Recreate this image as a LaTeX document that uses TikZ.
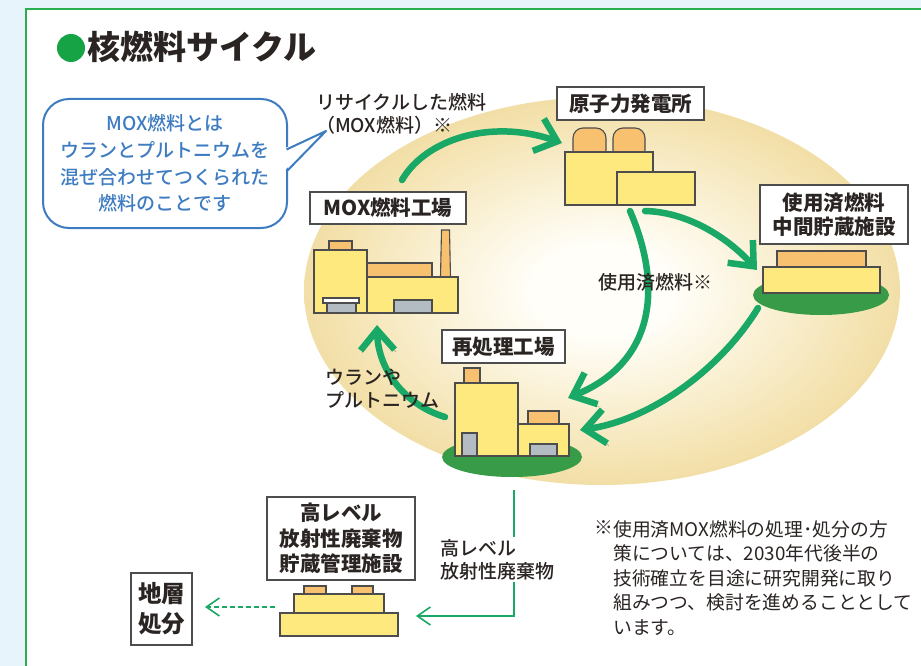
\documentclass[tikz,border=0pt]{standalone}
\usepackage{fontspec}
\setmainfont{Noto Sans CJK JP}
\newfontfamily\jpmid{Noto Sans CJK JP Medium}
\usepackage{tikz}
\usetikzlibrary{arrows.meta,shadows}

\definecolor{bg_blue}{HTML}{E7F4FC}
\definecolor{frame_green}{HTML}{2BAE4E}
\definecolor{dot_green}{HTML}{16A345}
\definecolor{arrow_green}{HTML}{19A866}
\definecolor{ground_green}{HTML}{379B47}
\definecolor{bldg_yellow}{HTML}{FEE97E}
\definecolor{bldg_orange}{HTML}{F7C16F}
\definecolor{bldg_gray}{HTML}{B3BBC3}
\definecolor{bldg_line}{HTML}{4D4D4D}
\definecolor{note_blue}{HTML}{3D7CC1}
\definecolor{egg_in}{HTML}{FFFEF8}
\definecolor{egg_mid}{HTML}{F4E2AE}
\definecolor{egg_out}{HTML}{E4C373}
\definecolor{egg_rim}{HTML}{DBB45E}
\definecolor{ink}{HTML}{2A2422}

\pgfdeclareradialshading{egg_shade}{\pgfpoint{0bp}{0bp}}{color(0bp)=(egg_in); color(6bp)=(egg_in); color(23bp)=(egg_mid); color(39bp)=(egg_out); color(50bp)=(egg_rim)}

\begin{document}
\begin{tikzpicture}[x=1pt,y=-1pt,
  label_box/.style={draw=bldg_line,line width=1.2pt,fill=white,inner sep=0pt,align=center,text=ink,
    font=\bfseries\fontsize{20.5}{23.5}\selectfont,
    drop shadow={shadow xshift=1pt,shadow yshift=-1.2pt,opacity=0.3,fill=black}},
  bldg/.style={draw=bldg_line,line width=1.1pt,fill=bldg_yellow},
  roof/.style={draw=bldg_line,line width=1.1pt,fill=bldg_orange},
  door/.style={draw=bldg_line,line width=1.1pt,fill=bldg_gray},
  ground/.style={fill=ground_green},
  bubble/.style={draw=note_blue,line width=2pt,fill=white,rounded corners=26pt,minimum width=244pt,minimum height=129pt,
    align=center,text=note_blue,font=\jpmid\fontsize{19}{26.7}\selectfont,inner sep=0pt},
  cycle_arrow/.style={draw=arrow_green,line width=6.5pt,line cap=round,-{Straight Barb[length=20pt,width=34pt]},
    preaction={draw=black!80!brown,draw opacity=0.45,transform canvas={shift={(1.6,2.4)}}}},
  waste_line/.style={draw=arrow_green,line width=1.6pt,-{Straight Barb[length=13pt,width=18pt]}},
  flow_text/.style={align=left,inner sep=0pt,text=ink,font=\jpmid\fontsize{19}{23}\selectfont},
  note_text/.style={align=left,inner sep=0pt,text=ink,font=\fontsize{18.8}{24.5}\selectfont}]

\useasboundingbox (0,0) rectangle (921,666);
\clip (0,0) rectangle (921,666);
\fill[bg_blue] (0,0) rectangle (921,666);
\draw[frame_green,line width=2pt,fill=white] (26,9) rectangle (950,700);

\fill[dot_green] (71,48) circle (14);
\node[anchor=west,inner sep=0pt,text=ink,font=\bfseries\fontsize{33}{33}\selectfont] (title) at (87,47) {核燃料サイクル};

\shade[shading=egg_shade] (602,291) ellipse [x radius=298, y radius=194];

\node[bubble] (mox_note) at (165,163.5) {MOX燃料とは\\ウランとプルトニウムを\\混ぜ合わせてつくられた\\燃料のことです};
\coordinate (note_tip) at (326,131);
\fill[white] (283,149) -- (note_tip) -- (283,172) -- cycle;
\draw[note_blue,line width=2pt,line join=round] (286.5,149.5) -- (note_tip) -- (286.5,171.5);

\draw[roof,rounded corners=10pt] (573,160) rectangle (606,128);
\draw[roof,rounded corners=10pt] (613,160) rectangle (645,128);
\draw[bldg] (565,152) rectangle (653,205);
\draw[bldg] (617,172) rectangle (695,205);

\draw[roof] (329,241) rectangle (352,250);
\draw[roof] (367,263) rectangle (432,277);
\draw[roof] (440.5,277) -- (441.5,230) -- (449.5,230) -- (450.5,277) -- cycle;
\draw[bldg] (314,250) rectangle (367,313);
\draw[bldg] (367,277) rectangle (458,313);
\draw[door] (327,303) rectangle (356,313);
\draw[door,fill=white] (323,298) rectangle (359,303);
\draw[door] (394,300) rectangle (432,313);

\fill[ground] (512,457) ellipse [x radius=70, y radius=20];
\draw[roof] (464,368) rectangle (480,383);
\draw[bldg] (455,383) rectangle (518,456);
\draw[roof] (528,411) rectangle (559,424);
\draw[bldg] (518,424) rectangle (569,456);
\draw[door] (462,433) rectangle (477,456);
\draw[door] (530,444) rectangle (557,456);

\fill[ground] (821,295) ellipse [x radius=68, y radius=20];
\draw[roof] (777,251) rectangle (866,267);
\draw[bldg] (763,267) rectangle (880,293);

\draw[roof] (304,586) rectangle (326,594);
\draw[roof] (352,586) rectangle (373,594);
\draw[bldg] (294,594) rectangle (384,613);
\draw[bldg] (280,613) rectangle (398,636);

\node[label_box,minimum width=147pt,minimum height=33pt] (plant) at (630.5,103.5) {原子力発電所};
\node[label_box,minimum width=156pt,minimum height=32pt] (mox_plant) at (388,208) {MOX燃料工場};
\node[label_box,minimum width=148pt,minimum height=59pt] (storage) at (834,214.5) {使用済燃料\\中間貯蔵施設};
\node[label_box,minimum width=123pt,minimum height=33pt] (repro) at (503.5,346.5) {再処理工場};
\node[label_box,minimum width=148pt,minimum height=83pt,font=\bfseries\fontsize{20.5}{25.5}\selectfont] (hlw) at (341,538.5) {高レベル\\放射性廃棄物\\貯蔵管理施設};
\node[label_box,minimum width=61pt,minimum height=72pt,font=\bfseries\fontsize{23.5}{30}\selectfont] (disposal) at (161.5,609) {地層\\処分};

\coordinate (mox_out) at (402,180);
\coordinate (plant_in) at (562,143);
\coordinate (plant_out_a) at (645,211);
\coordinate (storage_in) at (757,270);
\coordinate (plant_out_b) at (630,211);
\coordinate (repro_in_a) at (568,398);
\coordinate (storage_out) at (758,308);
\coordinate (repro_in_b) at (580,430);
\coordinate (repro_out) at (445,417);
\coordinate (mox_in) at (377,325);
\coordinate (repro_waste) at (514,490);
\coordinate (hlw_in) at (416,616);
\coordinate (hlw_out) at (275,607);
\coordinate (disposal_in) at (205,607);

\draw[cycle_arrow] (mox_out) .. controls (425,140) and (490,118) .. (plant_in);
\draw[cycle_arrow] (plant_out_a) .. controls (690,212) and (730,240) .. (storage_in);
\draw[cycle_arrow] (plant_out_b) .. controls (660,280) and (660,360) .. (repro_in_a);
\draw[cycle_arrow] (storage_out) .. controls (720,370) and (650,420) .. (repro_in_b);
\draw[cycle_arrow] (repro_out) .. controls (405,405) and (378,370) .. (mox_in);

\draw[waste_line] (repro_waste) |- (hlw_in);
\draw[waste_line,dash pattern=on 5pt off 3pt] (hlw_out) -- (disposal_in);

\node[flow_text,anchor=west] (recycle_label) at (316,113.5) {リサイクルした燃料\\（MOX燃料）※};
\node[flow_text] (spent_label) at (655,282) {使用済燃料※};
\node[flow_text,anchor=west] (uranium_label) at (325,388.5) {ウランや\\プルトニウム};
\node[flow_text,anchor=west,fill=white,inner sep=2pt] (waste_label) at (438,559.5) {高レベル\\放射性廃棄物};

\node[note_text,anchor=north west] (note) at (613,520) {使用済MOX燃料の処理･処分の方\\策については、2030年代後半の\\技術確立を目途に研究開発に取り\\組みつつ、検討を進めることとして\\います。};
\node[note_text,anchor=north east] (note_mark) at (note.north west) {※};
\end{tikzpicture}
\end{document}
